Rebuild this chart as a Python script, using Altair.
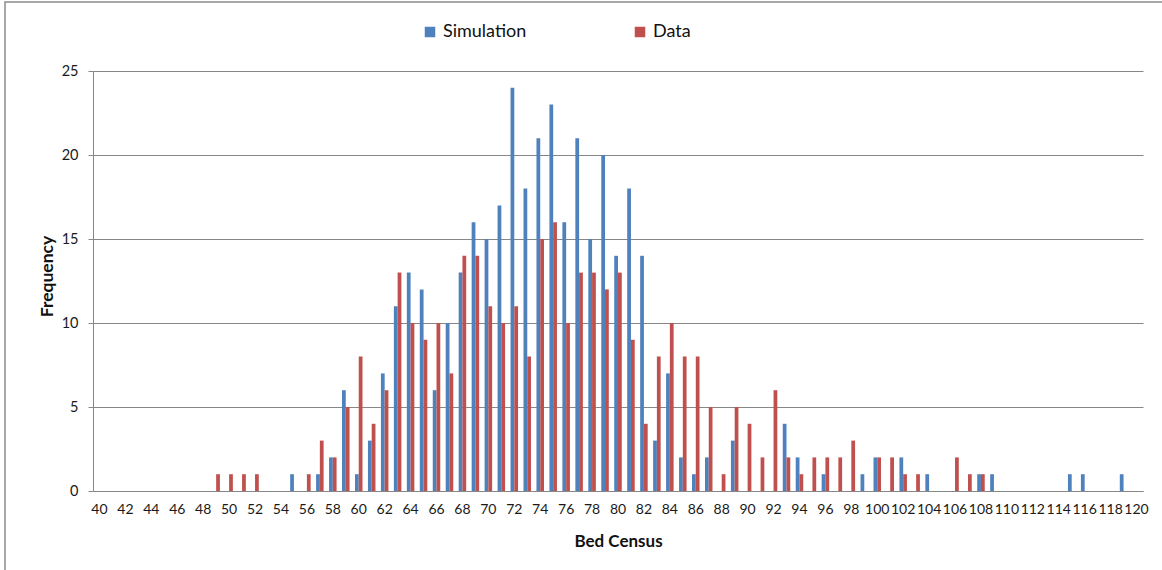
import altair as alt
import pandas as pd

categories = [40, 41, 42, 43, 44, 45, 46, 47, 48, 49,
              50, 51, 52, 53, 54, 55, 56, 57, 58, 59,
              60, 61, 62, 63, 64, 65, 66, 67, 68, 69,
              70, 71, 72, 73, 74, 75, 76, 77, 78, 79,
              80, 81, 82, 83, 84, 85, 86, 87, 88, 89,
              90, 91, 92, 93, 94, 95, 96, 97, 98, 99,
              100, 101, 102, 103, 104, 105, 106, 107, 108, 109,
              110, 111, 112, 113, 114, 115, 116, 117, 118, 119,
              120]

simulation = [0, 0, 0, 0, 0, 0, 0, 0, 0, 0,
              0, 0, 0, 0, 0, 1, 0, 1, 2, 6,
              1, 3, 7, 11, 13, 12, 6, 10, 13, 16,
              15, 17, 24, 18, 21, 23, 16, 21, 15, 20,
              14, 18, 14, 3, 7, 2, 1, 2, 0, 3,
              0, 0, 0, 4, 2, 0, 1, 0, 0, 1,
              2, 0, 2, 0, 1, 0, 0, 0, 1, 1,
              0, 0, 0, 0, 0, 1, 1, 0, 0, 1,
              0]

data_obs = [0, 0, 0, 0, 0, 0, 0, 0, 0, 1,
            1, 1, 1, 0, 0, 0, 1, 3, 2, 5,
            8, 4, 6, 13, 10, 9, 10, 7, 14, 14,
            11, 10, 11, 8, 15, 16, 10, 13, 13, 12,
            13, 9, 4, 8, 10, 8, 8, 5, 1, 5,
            4, 2, 6, 2, 1, 2, 2, 2, 3, 0,
            2, 2, 1, 1, 0, 0, 2, 1, 1, 0,
            0, 0, 0, 0, 0, 0, 0, 0, 0, 0,
            0]

x_tick_labels = [40, 42, 44, 46, 48, 50, 52, 54, 56, 58,
                 60, 62, 64, 66, 68, 70, 72, 74, 76, 78,
                 80, 82, 84, 86, 88, 90, 92, 94, 96, 98,
                 100, 102, 104, 106, 108, 110, 112, 114, 116, 118, 120]
y_tick_labels = [0, 5, 10, 15, 20, 25]

series_names = ["Simulation", "Data"]
series_colors = ["#4F81BD", "#C0504D"]

rows = []
for c, s, d in zip(categories, simulation, data_obs):
    rows.append({"category": c, "series": "Simulation", "value": s})
    rows.append({"category": c, "series": "Data", "value": d})
df = pd.DataFrame(rows)

FONT = "Lato"
GRAY = "#878787"

bars = alt.Chart(df).mark_bar().encode(
    x=alt.X("category:O", sort=categories,
            scale=alt.Scale(paddingInner=0.42, paddingOuter=0.21),
            axis=alt.Axis(values=x_tick_labels, labelAngle=0, ticks=False, tickSize=0,
                          labelPadding=11, labelFontSize=14, labelOverlap=False,
                          labelColor="#1a1a1a", domainColor=GRAY,
                          title="Bed Census", titleFontSize=17, titleFontWeight="bold",
                          titleColor="#111111", titleBaseline="alphabetic", titleY=55)),
    xOffset=alt.XOffset("series:N", sort=series_names, scale=alt.Scale(paddingInner=0, paddingOuter=0)),
    y=alt.Y("value:Q", scale=alt.Scale(domain=[0, 25], nice=False),
            axis=alt.Axis(values=y_tick_labels, grid=True, gridColor=GRAY, tickColor=GRAY,
                          tickSize=5, labelPadding=10, labelFontSize=14.5, labelColor="#1a1a1a",
                          domainColor=GRAY,
                          title="Frequency", titleFontSize=17.5, titleFontWeight="bold",
                          titleColor="#111111", titleBaseline="alphabetic",
                          titleX=-41, titleY=205, titleAngle=270)),
    color=alt.Color("series:N", sort=series_names,
                    scale=alt.Scale(domain=series_names, range=series_colors),
                    legend=alt.Legend(title=None, orient="none", direction="horizontal",
                                      legendX=328, legendY=-48, symbolType="square",
                                      symbolSize=110, symbolStrokeWidth=0,
                                      labelFontSize=18, labelColor="#111111",
                                      columnPadding=104, labelOffset=4)),
)

frame = alt.Chart(alt.Data(values=[{}])).mark_rect(
    fill="transparent", stroke="#8c8c8c", strokeWidth=1.5
).encode(
    x=alt.value(-88), x2=alt.value(1080),
    y=alt.value(-69), y2=alt.value(520),
)

chart = alt.layer(frame, bars).properties(
    width=1050, height=420,
    autosize=alt.AutoSizeParams(type="none"),
    padding={"left": 93, "top": 71, "right": 19, "bottom": 79},
).configure(font=FONT).configure_view(strokeWidth=0)

chart.save("out.html", embed_options={"renderer": "svg", "actions": False})
